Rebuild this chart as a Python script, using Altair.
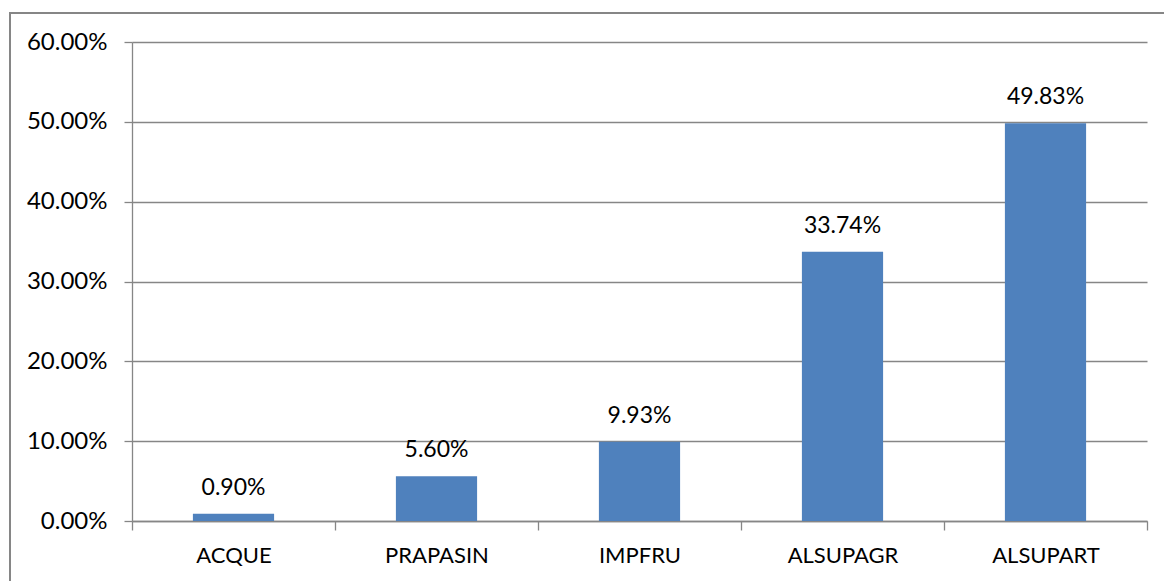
import altair as alt
import pandas as pd

categories = ["ACQUE", "PRAPASIN", "IMPFRU", "ALSUPAGR", "ALSUPART"]
shares = [0.0090, 0.0560, 0.0993, 0.3374, 0.4983]
y_ticks = [0.0, 0.1, 0.2, 0.3, 0.4, 0.5, 0.6]

df = pd.DataFrame({"category": categories, "share": shares})

FONT = "Lato"
GRAY = "#868686"
BLUE = "#4F81BD"

x_enc = alt.X(
    "category:N",
    sort=categories,
    scale=alt.Scale(paddingInner=0, paddingOuter=0),
    axis=alt.Axis(
        title=None,
        labelAngle=0,
        labelFont=FONT,
        labelFontSize=22,
        labelColor="#000000",
        labelPadding=15,
        tickBand="extent",
        tickSize=9,
        tickColor=GRAY,
        tickWidth=1.3,
        domainColor=GRAY,
        domainWidth=1.3,
        grid=False,
    ),
)
y_enc = alt.Y(
    "share:Q",
    scale=alt.Scale(domain=[0, 0.6], nice=False),
    axis=alt.Axis(
        title=None,
        values=y_ticks,
        format=".2%",
        labelFont=FONT,
        labelFontSize=24,
        labelColor="#000000",
        labelPadding=17,
        tickSize=8,
        tickColor=GRAY,
        tickWidth=1.3,
        domainColor=GRAY,
        domainWidth=1.3,
        grid=True,
        gridColor=GRAY,
        gridWidth=1.3,
    ),
)

base = alt.Chart(df)

bars = base.mark_bar(color=BLUE, width={"band": 0.4}).encode(x=x_enc, y=y_enc)

labels = base.mark_text(
    font=FONT, fontSize=23, color="#000000", baseline="alphabetic", dy=-19
).encode(
    x=alt.X("category:N", sort=categories),
    y=alt.Y("share:Q"),
    text=alt.Text("share:Q", format=".2%"),
)

# outer chart frame, running past the right and bottom edges
frame = alt.Chart(pd.DataFrame({"k": [0]})).mark_rect(
    fill=None, stroke=GRAY, strokeWidth=2, clip=False
).encode(
    x=alt.value(-122), x2=alt.value(1100),
    y=alt.value(-29), y2=alt.value(600),
)

chart = (
    alt.layer(frame, bars, labels)
    .properties(
        width=1015,
        height=479,
        autosize=alt.AutoSizeParams(type="none"),
        padding={"left": 132, "top": 42, "right": 17, "bottom": 60},
        background="#ffffff",
    )
    .configure_view(stroke=None)
)

chart.save("out.html", embed_options={"renderer": "svg", "actions": False})
